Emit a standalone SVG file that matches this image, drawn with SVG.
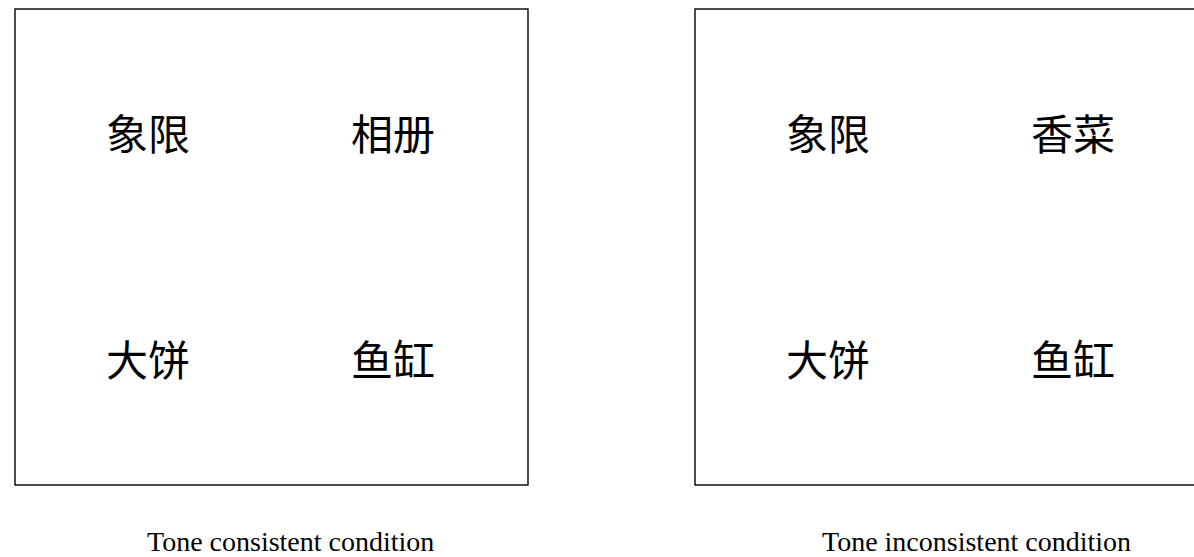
<svg xmlns="http://www.w3.org/2000/svg" width="1194" height="557" viewBox="0 0 1194 557">
<style>
.box{fill:#fff;stroke:#000;stroke-width:1.4}
.cjk{font-family:"Noto Sans CJK SC","Noto Sans",sans-serif;font-size:42px;fill:#000}
.cap{font-family:"Liberation Serif",serif;font-size:28px;fill:#000}
</style>
<rect width="1194" height="557" fill="#fff"/>
<g id="consistent">
<rect class="box" x="15" y="9" width="513" height="476"/>
<text class="cjk" x="106" y="150">象限</text>
<text class="cjk" x="351" y="150">相册</text>
<text class="cjk" x="106" y="376">大饼</text>
<text class="cjk" x="351" y="376">鱼缸</text>
</g>
<g id="inconsistent">
<rect class="box" x="695" y="9" width="513" height="476"/>
<text class="cjk" x="786" y="150">象限</text>
<text class="cjk" x="1031" y="150">香菜</text>
<text class="cjk" x="786" y="376">大饼</text>
<text class="cjk" x="1031" y="376">鱼缸</text>
</g>
<g id="connectors"></g>
<g id="captions">
<text class="cap" x="147" y="551">Tone consistent condition</text>
<text class="cap" x="822" y="551">Tone inconsistent condition</text>
</g>
</svg>
